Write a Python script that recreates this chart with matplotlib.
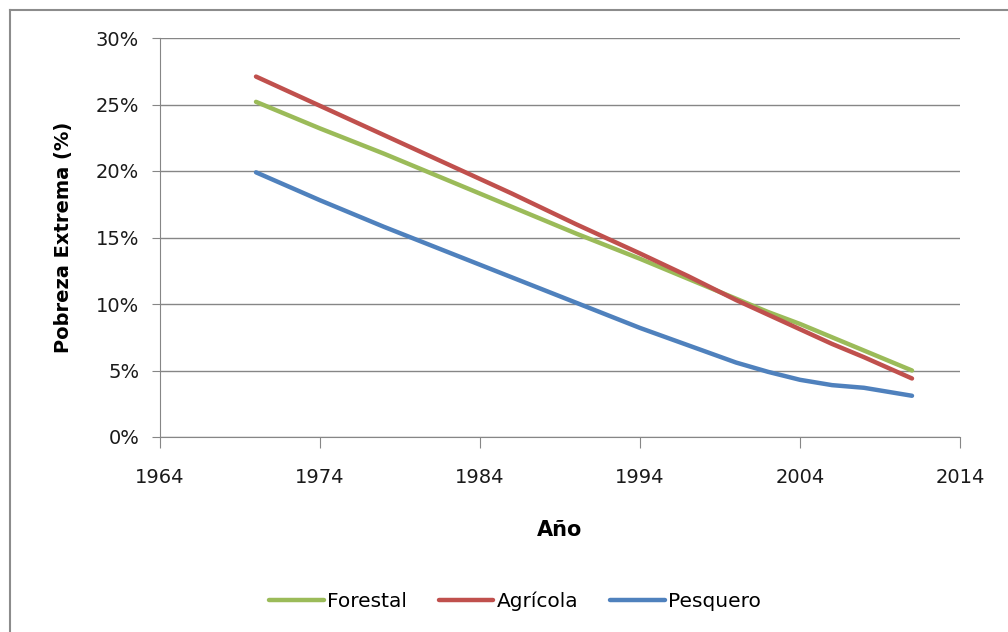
import matplotlib
matplotlib.use('Agg')
from matplotlib import pyplot as plt
from matplotlib.lines import Line2D

plt.rcParams['font.family'] = ['DejaVu Sans']

anios = [1970, 1974, 1978, 1982, 1986, 1990, 1994, 1997, 2000, 2002, 2004, 2006, 2008, 2011]
forestal = [25.2, 23.2, 21.3, 19.3, 17.3, 15.3, 13.4, 11.9, 10.4, 9.4, 8.5, 7.5, 6.5, 5.0]
agricola = [27.1, 24.9, 22.7, 20.5, 18.3, 16.0, 13.8, 12.1, 10.3, 9.2, 8.1, 7.0, 6.0, 4.4]
pesquero = [19.9, 17.8, 15.8, 13.9, 12.0, 10.1, 8.2, 6.9, 5.6, 4.9, 4.3, 3.9, 3.7, 3.1]

xticks = [1964, 1974, 1984, 1994, 2004, 2014]
yticks = [0, 5, 10, 15, 20, 25, 30]

fig = plt.figure(figsize=(10.08, 6.32), dpi=100)
ax = fig.add_axes([160/1008, 1-437/632, 800/1008, 399/632])

# marco exterior (solo se ve arriba y a la izquierda)
x0, y0 = 9.5/1008, 1-9.5/632
fig.lines.append(Line2D([x0, 1.0], [y0, y0], transform=fig.transFigure, color='#8c8c8c', lw=1.5))
fig.lines.append(Line2D([x0, x0], [0, y0], transform=fig.transFigure, color='#8c8c8c', lw=1.5))

ax.plot(anios, forestal, color='#9BBB59', lw=3.2, label='Forestal', solid_capstyle='round')
ax.plot(anios, agricola, color='#C0504D', lw=3.2, label='Agrícola', solid_capstyle='round')
ax.plot(anios, pesquero, color='#4F81BD', lw=3.2, label='Pesquero', solid_capstyle='round')

ax.set_xlim(1964, 2014)
ax.set_ylim(0, 30)
ax.set_xticks(xticks)
ax.set_yticks(yticks)
ax.set_yticklabels([f'{v}%' for v in yticks])
ax.grid(axis='y', color='#868686', lw=1)
ax.set_axisbelow(True)
for s in ['top', 'right']:
    ax.spines[s].set_visible(False)
for s in ['left', 'bottom']:
    ax.spines[s].set_color('#868686')
ax.tick_params(axis='x', length=8, color='#868686', labelsize=14, pad=14, labelcolor='#1a1a1a')
ax.tick_params(axis='y', length=6, color='#868686', labelsize=14, pad=9, labelcolor='#1a1a1a')

ax.set_xlabel('Año', fontsize=15, fontweight='bold', labelpad=24)
ax.set_ylabel('Pobreza Extrema (%)', fontsize=14, fontweight='bold', labelpad=16)

ax.legend(loc='center', bbox_to_anchor=(515/1008, 1-601/632), bbox_transform=fig.transFigure,
          ncol=3, frameon=False, fontsize=14.5, handlelength=2.7, handletextpad=0.15,
          columnspacing=1.6)

fig.savefig('out.png', dpi=100)
